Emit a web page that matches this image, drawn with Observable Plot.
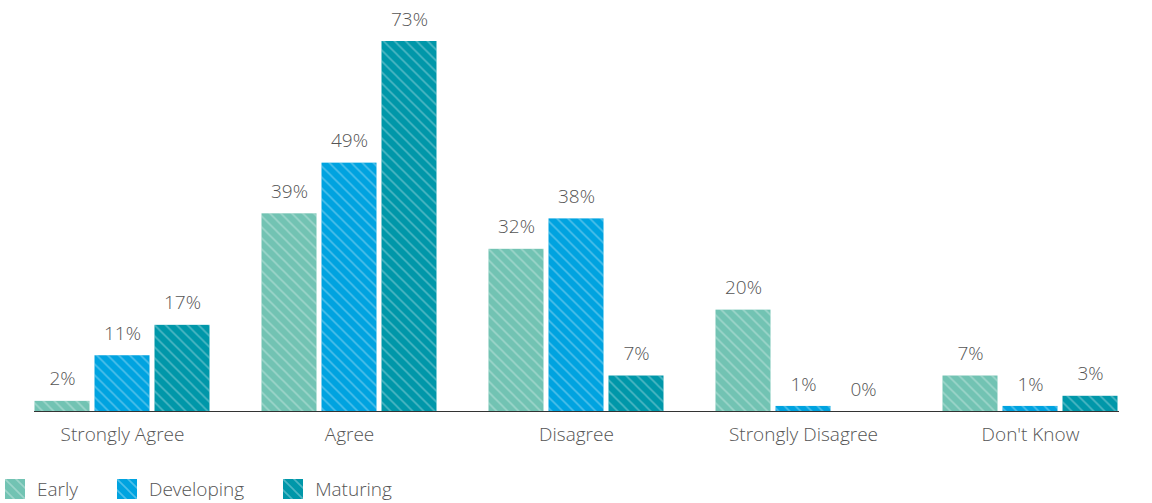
<!DOCTYPE html>
<html>
<head>
<meta charset="utf-8">
<script src="https://cdn.jsdelivr.net/npm/d3@7"></script>
<script src="https://cdn.jsdelivr.net/npm/@observablehq/plot@0.6"></script>
<style>
  html, body { margin: 0; padding: 0; background: #fff; }
  body { font-family: "Open Sans", sans-serif; width: 1152px; height: 503px; overflow: hidden; }
  #chart svg { display: block; }
  #legend { display: flex; align-items: center; height: 20px; margin-top: 9px; padding-left: 5px; font-size: 19px; color: #555; font-weight: 300; }
  #legend .item { display: flex; align-items: center; margin-right: 39px; }
  #legend svg { display: block; margin-right: 12px; }
</style>
</head>
<body>
<svg width="0" height="0" style="position:absolute">
  <defs>
    <pattern id="hatch" patternUnits="userSpaceOnUse" width="11" height="11">
      <path d="M0,0 L11,11 M-5.5,5.5 L5.5,16.5 M5.5,-5.5 L16.5,5.5" stroke="#fff" stroke-opacity="0.3" stroke-width="1.6"/>
    </pattern>
  </defs>
</svg>
<div id="chart"></div>
<div id="legend"></div>
<script>
const categories = ["Strongly Agree", "Agree", "Disagree", "Strongly Disagree", "Don't Know"];
const series = ["Early", "Developing", "Maturing"];
const colors = ["#72c3b3", "#00a3e0", "#0097a9"];
const early = [2, 39, 32, 20, 7];
const developing = [11, 49, 38, 1, 1];
const maturing = [17, 73, 7, 0, 3];
const values = [early, developing, maturing];

const data = categories.flatMap((c, i) => series.map((s, j) => ({category: c, series: s, value: values[j][i]})));

const chart = Plot.plot({
  width: 1152,
  height: 470,
  marginTop: 41,
  marginBottom: 59,
  marginLeft: 6.5,
  marginRight: 6.5,
  style: {fontFamily: "'Open Sans', sans-serif", color: "#555", background: "#fff"},
  fx: {domain: categories, paddingInner: 0.2237, paddingOuter: 0.1118, label: null},
  x: {domain: series, paddingInner: 0.082, paddingOuter: 0, axis: null},
  y: {domain: [0, 73], axis: null},
  color: {domain: series, range: colors},
  marks: [
    Plot.barY(data, {fx: "category", x: "series", y: "value", fill: "series"}),
    Plot.barY(data, {fx: "category", x: "series", y: "value", fill: "url(#hatch)"}),
    Plot.text(data, {fx: "category", x: "series", y: "value", text: d => d.value + "%", dy: -22, fill: "#555", fontSize: 19, fontWeight: 300}),
    Plot.frame({anchor: "bottom", facet: "super", stroke: "#333", strokeWidth: 1}),
    Plot.axisFx({anchor: "bottom", tickSize: 0, tickPadding: 16, fontSize: 19, fontWeight: 300, fill: "#555", label: null})
  ]
});
document.getElementById("chart").appendChild(chart);

const legend = document.getElementById("legend");
series.forEach((s, j) => {
  const item = document.createElement("div");
  item.className = "item";
  item.innerHTML = `<svg width="20" height="20"><rect width="20" height="20" fill="${colors[j]}"/><rect width="20" height="20" fill="url(#hatch)"/></svg><span>${s}</span>`;
  legend.appendChild(item);
});
</script>
</body>
</html>
